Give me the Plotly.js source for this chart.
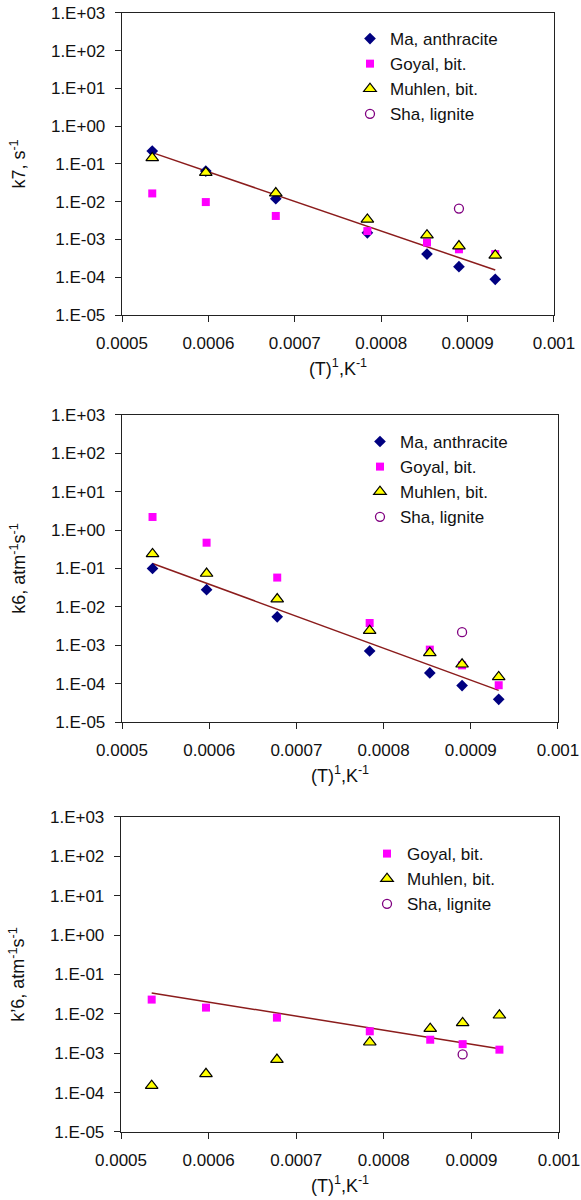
<!DOCTYPE html>
<html>
<head>
<meta charset="utf-8">
<script src="https://cdn.plot.ly/plotly-3.0.1.min.js"></script>
<style>html,body{margin:0;padding:0;background:#fff;}#chart{width:581px;height:1200px;}</style>
</head>
<body>
<div id="chart"></div>
<script>
// inverse temperature, 1/K
const invT = [0.000535, 0.000597, 0.000678, 0.000784, 0.000853, 0.000890, 0.000932];
const shaX = [0.000890];

// Panel 1: k7, s-1
const k7_ma     = [0.22, 0.065, 0.012, 0.0015, 0.00041, 0.00019, 0.000088];
const k7_goyal  = [0.0166, 0.0098, 0.0042, 0.00167, 0.00083, 0.00055, 0.00041];
const k7_muhlen = [0.145, 0.059, 0.017, 0.0034, 0.0013, 0.00067, 0.00038];
const k7_sha    = [0.0066];
const k7_fit    = [0.20, 0.065, 0.015, 0.0022, 0.00064, 0.00033, 0.000155];

// Panel 2: k6, atm-1 s-1
const k6_ma     = [0.10, 0.028, 0.0055, 0.00071, 0.00019, 0.000089, 0.000039];
const k6_goyal  = [2.2, 0.47, 0.058, 0.0038, 0.00077, 0.00030, 0.000091];
const k6_muhlen = [0.24, 0.074, 0.016, 0.0024, 0.00063, 0.00032, 0.00015];
const k6_sha    = [0.0022];
const k6_fit    = [0.135, 0.041, 0.0087, 0.00115, 0.00031, 0.00015, 0.000067];

// Panel 3: k'6, atm-1 s-1
const k6p_goyal  = [0.023, 0.0144, 0.0080, 0.0036, 0.0022, 0.0017, 0.00123];
const k6p_muhlen = [0.00015, 0.00030, 0.00069, 0.0019, 0.0042, 0.0059, 0.0092];
const k6p_sha    = [0.00093];
const k6p_fit    = [0.034, 0.0204, 0.0105, 0.0044, 0.0025, 0.0019, 0.0013];

const xTickVals = [0.0005, 0.0006, 0.0007, 0.0008, 0.0009, 0.001];
const xTickText = ['0.0005', '0.0006', '0.0007', '0.0008', '0.0009', '0.001'];
const yTickVals = [1e-5, 1e-4, 1e-3, 1e-2, 1e-1, 1, 10, 100, 1000];
const yTickText = ['1.E-05', '1.E-04', '1.E-03', '1.E-02', '1.E-01', '1.E+00', '1.E+01', '1.E+02', '1.E+03'];

const names = {ma: 'Ma, anthracite', goyal: 'Goyal, bit.', muhlen: 'Muhlen, bit.', sha: 'Sha, lignite'};
const FONT = 'Liberation Sans, Arial, sans-serif';
const fitColor = '#8B1C1C';

function mk(kind) {
  if (kind === 'ma') return {symbol: 'diamond', size: 9, color: '#000080'};
  if (kind === 'goyal') return {symbol: 'square', size: 8, color: '#FF00FF'};
  if (kind === 'muhlen') return {symbol: 'triangle-up', size: 11, color: '#FFFF00', line: {color: '#000', width: 1.2}};
  return {symbol: 'circle-open', size: 9, color: '#800080', line: {color: '#800080', width: 1.3}};
}

function pts(kind, x, y, ax, leg) {
  const sfx = ax === 1 ? '' : String(ax);
  return {type: 'scatter', mode: 'markers', name: names[kind], x: x, y: y,
    xaxis: 'x' + sfx, yaxis: 'y' + sfx, legend: leg, marker: mk(kind), cliponaxis: false};
}
function fit(x, y, ax) {
  const sfx = ax === 1 ? '' : String(ax);
  return {type: 'scatter', mode: 'lines', x: x, y: y, xaxis: 'x' + sfx, yaxis: 'y' + sfx,
    line: {color: fitColor, width: 1.5}, showlegend: false, hoverinfo: 'skip'};
}

const data = [
  fit(invT, k7_fit, 1),
  pts('ma', invT, k7_ma, 1, 'legend'),
  pts('goyal', invT, k7_goyal, 1, 'legend'),
  pts('muhlen', invT, k7_muhlen, 1, 'legend'),
  pts('sha', shaX, k7_sha, 1, 'legend'),
  fit(invT, k6_fit, 2),
  pts('ma', invT, k6_ma, 2, 'legend2'),
  pts('goyal', invT, k6_goyal, 2, 'legend2'),
  pts('muhlen', invT, k6_muhlen, 2, 'legend2'),
  pts('sha', shaX, k6_sha, 2, 'legend2'),
  fit(invT, k6p_fit, 3),
  pts('goyal', invT, k6p_goyal, 3, 'legend3'),
  pts('muhlen', invT, k6p_muhlen, 3, 'legend3'),
  pts('sha', shaX, k6p_sha, 3, 'legend3')
];

function xax(domain, anchor) {
  return {domain: domain, anchor: anchor, range: [0.0005, 0.001], tickvals: xTickVals, ticktext: xTickText,
    showline: true, linecolor: '#222', linewidth: 1.3, mirror: true, ticks: 'outside', ticklen: 6, tickcolor: '#222',
    ticklabelstandoff: 6,
    showgrid: false, zeroline: false, tickfont: {family: FONT, size: 17, color: '#111'},
    title: {text: '(T)<sup>1</sup>,K<sup>-1</sup>', font: {family: FONT, size: 18, color: '#111'}, standoff: 10}};
}
function yax(domain, anchor, title) {
  return {domain: domain, anchor: anchor, type: 'log', range: [-5, 3], tickvals: yTickVals, ticktext: yTickText,
    showline: true, linecolor: '#222', linewidth: 1.3, mirror: true, ticks: 'outside', ticklen: 6, tickcolor: '#222',
    ticklabelstandoff: 6,
    showgrid: false, zeroline: false, tickfont: {family: FONT, size: 17, color: '#111'},
    title: {text: title, font: {family: FONT, size: 18, color: '#111'}, standoff: 20}};
}
function leg(x, y) {
  return {x: x, y: y, xanchor: 'left', yanchor: 'top', bgcolor: 'rgba(0,0,0,0)', borderwidth: 0,
    font: {family: FONT, size: 17, color: '#111'}, itemwidth: 30, tracegroupgap: 0};
}

const layout = {
  width: 581, height: 1200,
  margin: {l: 0, r: 0, t: 0, b: 0},
  paper_bgcolor: '#fff', plot_bgcolor: '#fff',
  showlegend: true,
  xaxis:  xax([0.2100, 0.9535], 'y'),
  yaxis:  yax([0.7375, 0.9892], 'x', 'k7, s<sup>-1</sup>'),
  xaxis2: xax([0.2100, 0.9604], 'y2'),
  yaxis2: yax([0.3983, 0.6542], 'x2', 'k6, atm<sup>-1</sup>s<sup>-1</sup>'),
  xaxis3: xax([0.2083, 0.9621], 'y3'),
  yaxis3: yax([0.0567, 0.3192], 'x3', 'k\u20196, atm<sup>-1</sup>s<sup>-1</sup>'),
  legend:  leg(0.6024, 0.9825),
  legend2: leg(0.6196, 0.6467),
  legend3: leg(0.6317, 0.3033)
};

Plotly.newPlot('chart', data, layout, {staticPlot: true, displayModeBar: false});
</script>
</body>
</html>
